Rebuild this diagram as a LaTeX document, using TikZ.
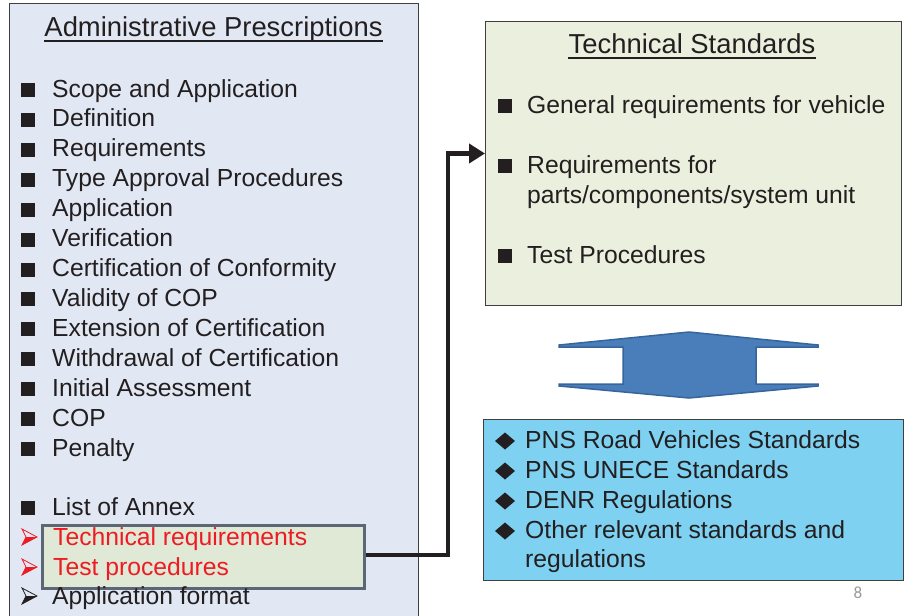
\documentclass[tikz,border=0pt]{standalone}
\usepackage{fontspec}
\setmainfont{Liberation Sans}
\newfontfamily\carl{Carlito}
\usetikzlibrary{arrows.meta}
\definecolor{txt}{HTML}{231F20}
\definecolor{redtxt}{HTML}{ED1C24}
\definecolor{leftbg}{HTML}{E1E8F4}
\definecolor{techbg}{HTML}{EBEFDD}
\definecolor{pnsbg}{HTML}{7ED1F1}
\definecolor{grnbg}{HTML}{E0E9D5}
\definecolor{grnborder}{HTML}{5B6677}
\definecolor{boxborder}{HTML}{3F3F3F}
\definecolor{arrfill}{HTML}{4A7EBB}
\definecolor{arrdraw}{HTML}{36659C}
\newcommand\bodyfont{\fontsize{24.7}{30}\selectfont}
\newcommand\titlefont{\fontsize{27.4}{32}\selectfont}
\begin{document}
\begin{tikzpicture}[x=1pt,y=-1pt,
  panel/.style={draw=boxborder, line width=1pt, anchor=north west, inner sep=0},
  item/.style={anchor=base west, inner sep=0, font=\bodyfont, text=txt},
  reditem/.style={item, text=redtxt},
  ttl/.style={anchor=base, inner sep=0, font=\titlefont, text=txt},
  sqb/.pic={\fill[txt] (0,0) rectangle (14,-14);},
  dmd/.pic={\fill[txt] (-10,0) -- (0,-8.5) -- (10,0) -- (0,8.5) -- cycle;},
  arrb/.pic={\fill (4,-8) -- (15,-8) -- (0,0) -- cycle;
             \draw[line width=0.8pt, line join=miter] (0,-16) -- (15,-8) -- (0,0) -- (4,-8) -- cycle;},
  conn/.style={draw=txt, line width=4.5pt, -{Triangle[length=16pt,width=19pt]}}
]
\useasboundingbox (0,0) rectangle (911,616);
\clip (0,0) rectangle (911,616);

% left panel
\node[panel, fill=leftbg, minimum width=409, minimum height=650] (adm) at (9,3) {};
\node[ttl] (admt) at (213.5,36) {Administrative Prescriptions};
\draw[txt, line width=1.3pt] ([yshift=-5pt]admt.base west) -- ([yshift=-5pt]admt.base east);

\foreach \t [count=\i from 0] in {Scope and Application, Definition, Requirements,
  Type Approval Procedures, Application, Verification, Certification of Conformity,
  Validity of COP, Extension of Certification, Withdrawal of Certification,
  Initial Assessment, COP, Penalty}{
  \node[item] (a\i) at (52,{97+29.92*\i}) {\t};
  \pic at (21,{97+29.92*\i}) {sqb};
}
\node[item] (annex) at (52,515) {List of Annex};
\pic at (21,515) {sqb};

% green highlight box
\node[draw=grnborder, line width=2.5pt, fill=grnbg, anchor=north west, inner sep=0,
      minimum width=322, minimum height=63] (grn) at (41,524) {};
\node[reditem] (techreq) at (53,545) {Technical requirements};
\node[reditem] (testproc) at (53,575) {Test procedures};
\node[item] (appform) at (52,604) {Application format};
\pic[draw=redtxt, fill=redtxt] at (22,545) {arrb};
\pic[draw=redtxt, fill=redtxt] at (22,575) {arrb};
\pic[draw=txt, fill=txt] at (22,604) {arrb};

% technical standards panel
\node[panel, fill=techbg, minimum width=416, minimum height=284] (ts) at (485,21) {};
\node[ttl] (tst) at (692,53) {Technical Standards};
\draw[txt, line width=1.3pt] ([yshift=-5pt]tst.base west) -- ([yshift=-5pt]tst.base east);
\node[item] (t1) at (527,113) {General requirements for vehicle};
\node[item] (t2) at (527,173) {Requirements for};
\node[item] (t2b) at (527,203) {parts/components/system unit};
\node[item] (t3) at (527,263) {Test Procedures};
\pic at (498,113) {sqb};
\pic at (498,173) {sqb};
\pic at (498,263) {sqb};

% double arrow
\filldraw[fill=arrfill, draw=arrdraw, line width=1.5pt, line join=miter]
  (559,345) -- (689,332) -- (818,345) -- (818,347) -- (756,347) -- (756,384)
  -- (818,384) -- (818,386) -- (689,398) -- (559,386) -- (559,384) -- (623,384)
  -- (623,347) -- (559,347) -- cycle;

% PNS panel
\node[panel, fill=pnsbg, minimum width=420, minimum height=161] (pns) at (483,419) {};
\node[item] (p1) at (525,448) {PNS Road Vehicles Standards};
\node[item] (p2) at (525,478) {PNS UNECE Standards};
\node[item] (p3) at (525,508) {DENR Regulations};
\node[item] (p4) at (525,538) {Other relevant standards and};
\node[item] (p4b) at (525,567) {regulations};
\foreach \y in {448,478,508,538}{ \pic at (505,\y-7) {dmd}; }

% connector
\coordinate (bend) at (448,153.5);
\draw[conn, line join=miter] (grn.east |- 0,555) -| (bend) -- (bend -| ts.west);

% page number
\node[inner sep=0, font=\carl\fontsize{17}{20}\selectfont, text=black!40] (pg) at (858,593) {8};
\end{tikzpicture}
\end{document}
